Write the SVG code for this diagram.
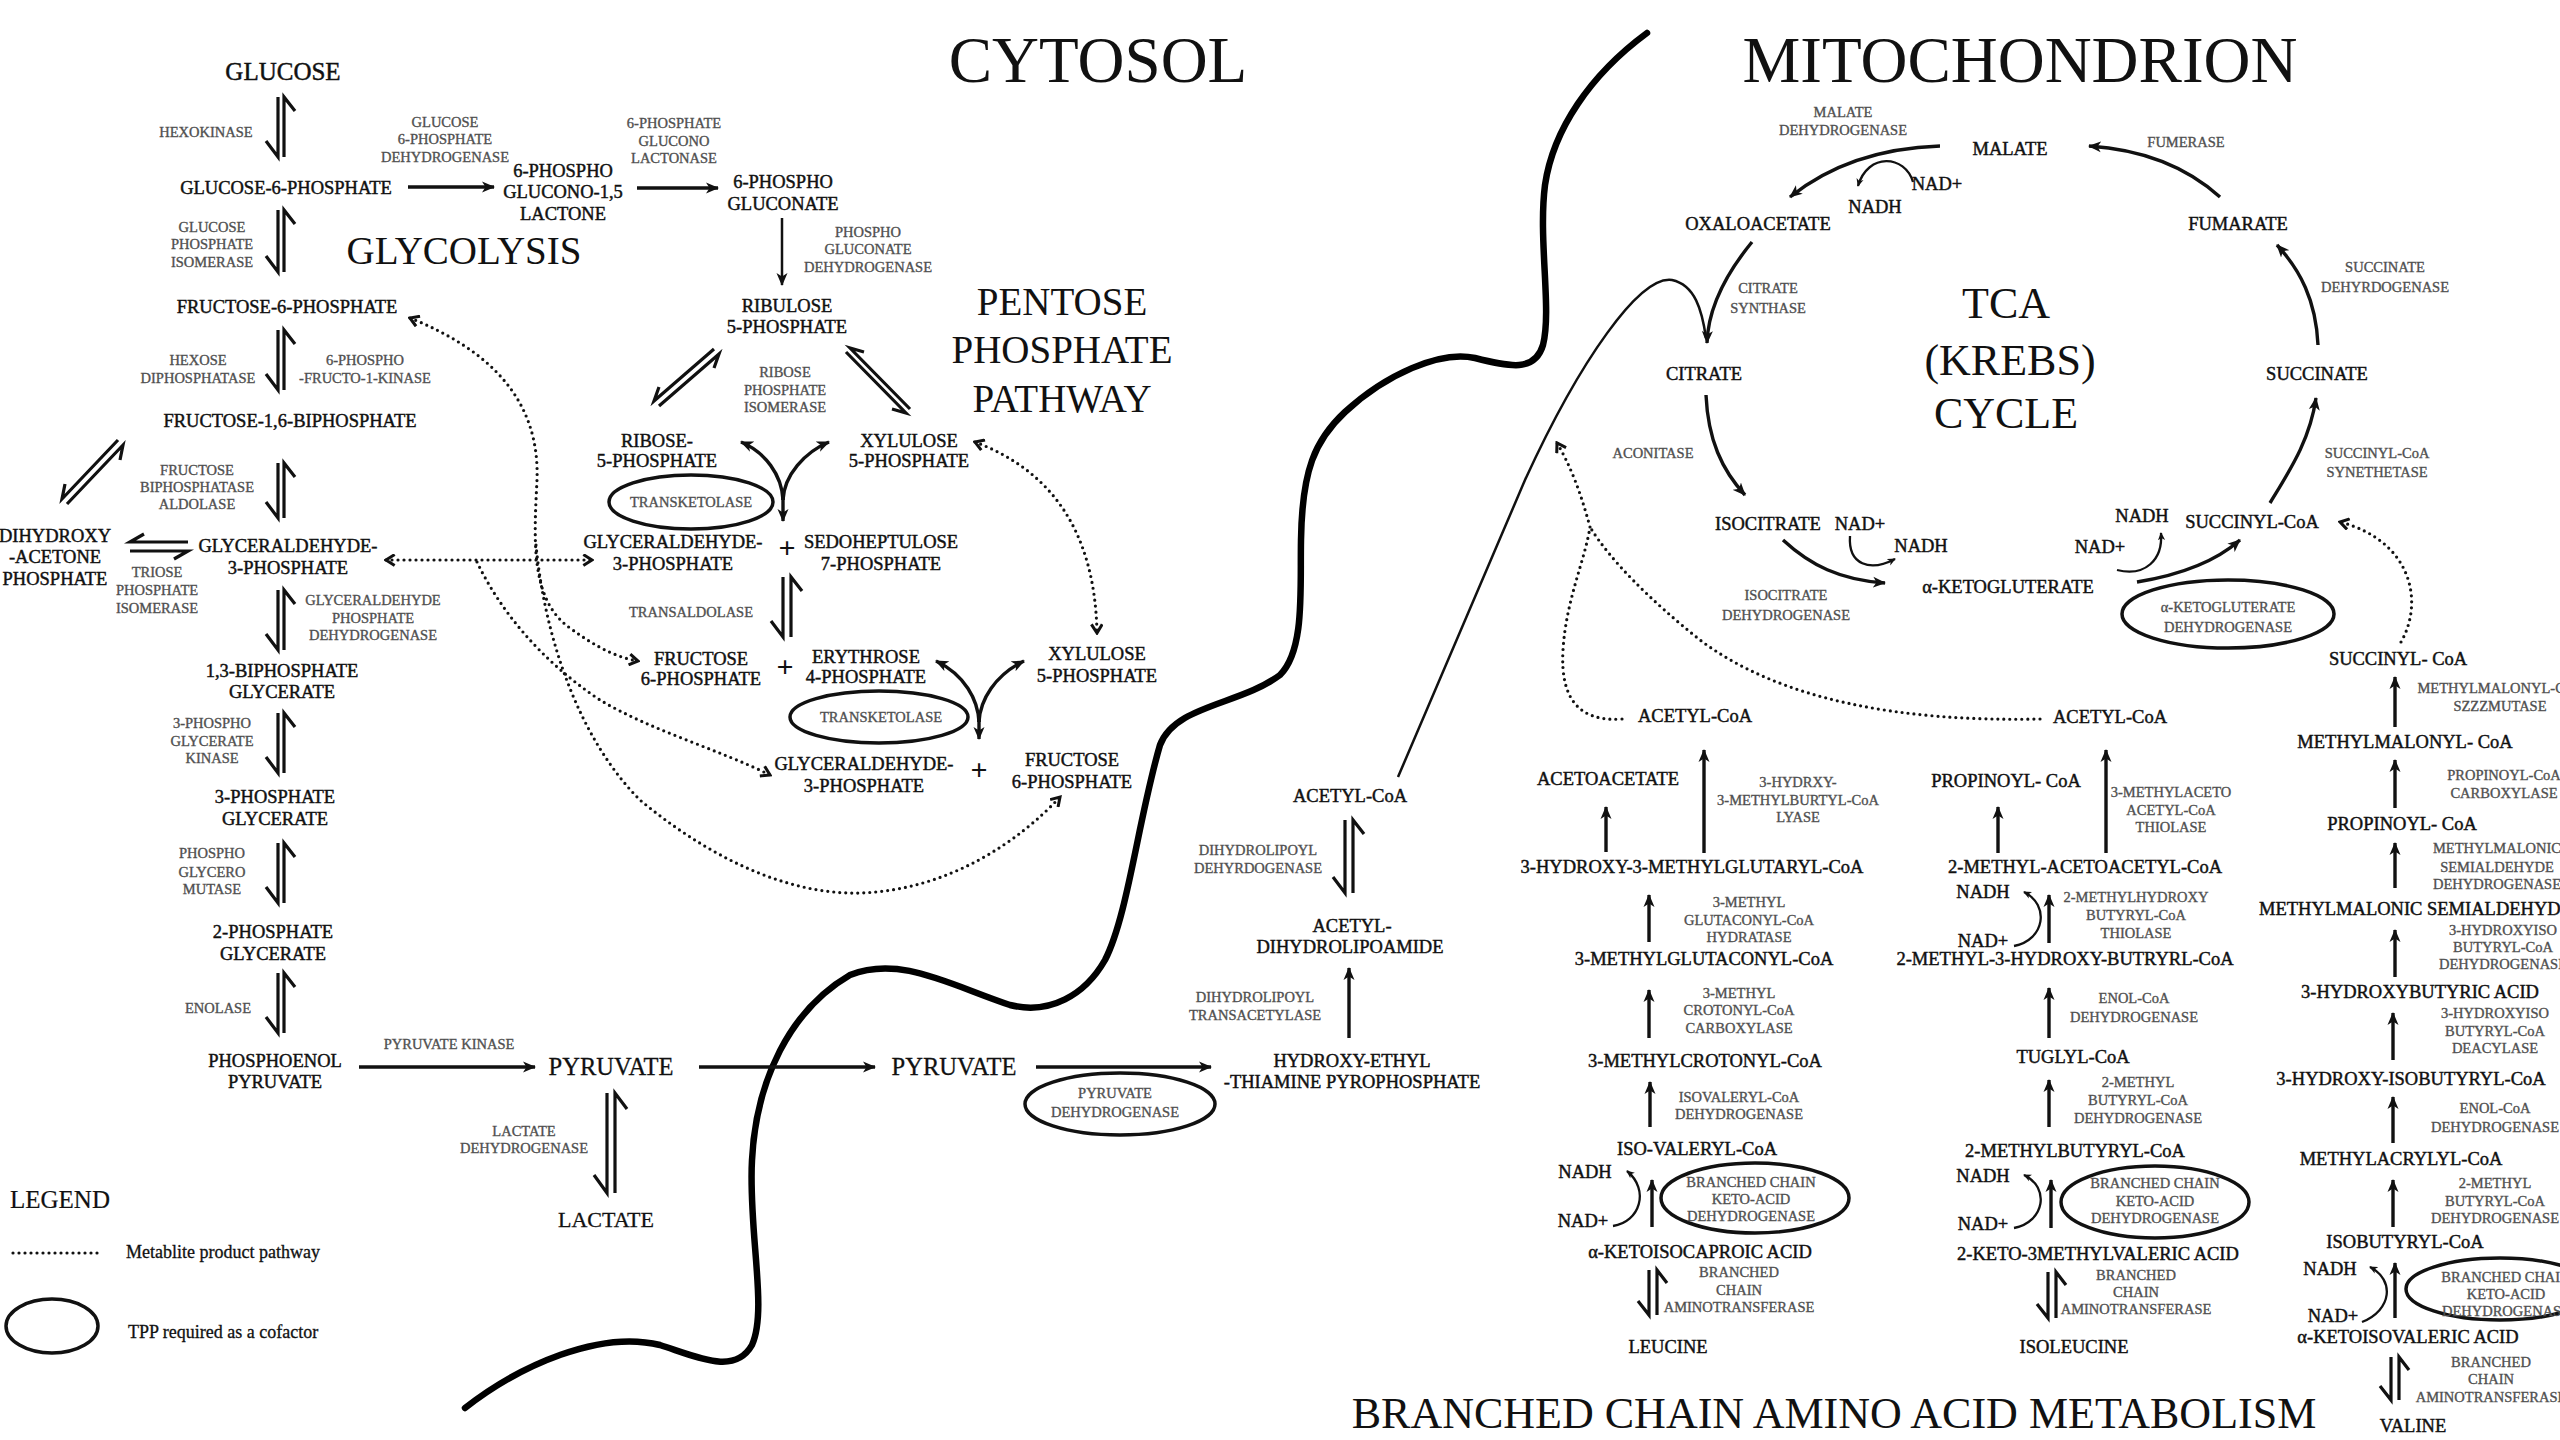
<svg xmlns="http://www.w3.org/2000/svg" width="2560" height="1440" viewBox="0 0 2560 1440">
<style>
text{font-family:"Liberation Serif","Times New Roman",serif}
.m{font-size:18.5px;fill:#111;stroke:#111;stroke-width:0.45px;text-anchor:middle}
.e{font-size:14.5px;fill:#505050;stroke:#505050;stroke-width:0.35px;text-anchor:middle}
.big{font-size:65px;fill:#111;text-anchor:middle}
.sec{font-size:39px;fill:#111;text-anchor:middle}
.lg{font-size:24.5px;fill:#111;stroke:#111;stroke-width:0.3px;text-anchor:middle}
.pl{font-size:30px;font-weight:bold;fill:#111;text-anchor:middle}
.leg{font-size:18px;fill:#111;stroke:#111;stroke-width:0.3px}
.ln{stroke:#111;stroke-width:3.4;fill:none;marker-end:url(#ah)}
.tn{stroke:#111;stroke-width:2.5;fill:none}
.arc{stroke:#111;stroke-width:2.3;fill:none;marker-end:url(#as)}
.eq{stroke:#111;stroke-width:3.2;fill:none;stroke-linejoin:miter;stroke-linecap:butt}
.dot{stroke:#111;stroke-width:3.2;fill:none;stroke-dasharray:0 6;stroke-linecap:round}
.ell{fill:none;stroke:#111;stroke-width:3.5}
.mem{fill:none;stroke:#000;stroke-width:6.5;stroke-linecap:round}
</style>
<defs>
<marker id="ah" viewBox="0 0 14 12" refX="12" refY="6" markerWidth="14" markerHeight="12" markerUnits="userSpaceOnUse" orient="auto-start-reverse"><path d="M0,0.5 L13,6 L0,11.5 L3.5,6 z" fill="#111"/></marker>
<marker id="as" viewBox="0 0 10 10" refX="8" refY="5" markerWidth="9" markerHeight="9" markerUnits="userSpaceOnUse" orient="auto-start-reverse"><path d="M0,1 L9,5 L0,9 L2.5,5 z" fill="#111"/></marker>
<marker id="dh" viewBox="0 0 12 12" refX="10" refY="6" markerWidth="13" markerHeight="13" markerUnits="userSpaceOnUse" orient="auto-start-reverse"><path d="M2,1 L10,6 L2,11" fill="none" stroke="#111" stroke-width="2.8"/></marker>
</defs>
<rect width="2560" height="1440" fill="#fff"/>

<g id="titles">
<text class="big" x="1098" y="82">CYTOSOL</text>
<text class="big" x="2020" y="82">MITOCHONDRION</text>
<text class="sec" x="464" y="264">GLYCOLYSIS</text>
<text class="sec"><tspan x="1062" y="315">PENTOSE</tspan><tspan x="1062" y="363">PHOSPHATE</tspan><tspan x="1062" y="412">PATHWAY</tspan></text>
<text class="sec" style="font-size:44px"><tspan x="2006" y="318">TCA</tspan><tspan x="2010" y="375">(KREBS)</tspan><tspan x="2006" y="428">CYCLE</tspan></text>
<text class="sec" style="font-size:44px" x="1834" y="1428">BRANCHED CHAIN AMINO ACID METABOLISM</text>
</g>

<g id="membrane"><path class="mem" d="M465,1408 C520,1365 600,1330 660,1345 C700,1358 735,1375 752,1345 C768,1310 748,1230 752,1160 C756,1080 790,1010 850,975 C900,955 950,985 1010,1005 C1050,1015 1085,995 1105,960 C1128,915 1138,820 1160,745 C1175,705 1240,705 1280,675 C1305,650 1300,590 1301,540 C1302,470 1315,440 1345,412 C1385,375 1440,350 1475,358 C1510,367 1535,372 1543,345 C1552,310 1538,240 1545,185 C1553,130 1590,75 1647,33"/></g>

<g id="glycolysis-nodes">
<g id="n-glucose"><text class="m" style="font-size:25px" x="283" y="80">GLUCOSE</text></g>
<g id="e-hexokinase"><text class="e" x="206" y="137">HEXOKINASE</text></g>
<g id="e-g6pdh"><text class="e"><tspan x="445" y="127">GLUCOSE</tspan><tspan x="445" y="144">6-PHOSPHATE</tspan><tspan x="445" y="162">DEHYDROGENASE</tspan></text></g>
<g id="n-g6p"><text class="m" x="286" y="194">GLUCOSE-6-PHOSPHATE</text></g>
<g id="n-lactone"><text class="m"><tspan x="563" y="177">6-PHOSPHO</tspan><tspan x="563" y="198">GLUCONO-1,5</tspan><tspan x="563" y="220">LACTONE</tspan></text></g>
<g id="e-lactonase"><text class="e"><tspan x="674" y="128">6-PHOSPHATE</tspan><tspan x="674" y="146">GLUCONO</tspan><tspan x="674" y="163">LACTONASE</tspan></text></g>
<g id="n-6pg"><text class="m"><tspan x="783" y="188">6-PHOSPHO</tspan><tspan x="783" y="210">GLUCONATE</tspan></text></g>
<g id="e-6pgdh"><text class="e"><tspan x="868" y="237">PHOSPHO</tspan><tspan x="868" y="254">GLUCONATE</tspan><tspan x="868" y="272">DEHYDROGENASE</tspan></text></g>
<g id="e-gpi"><text class="e"><tspan x="212" y="232">GLUCOSE</tspan><tspan x="212" y="249">PHOSPHATE</tspan><tspan x="212" y="267">ISOMERASE</tspan></text></g>
<g id="n-f6p"><text class="m" x="287" y="313">FRUCTOSE-6-PHOSPHATE</text></g>
<g id="e-hexdip"><text class="e"><tspan x="198" y="365">HEXOSE</tspan><tspan x="198" y="383">DIPHOSPHATASE</tspan></text></g>
<g id="e-pfk"><text class="e"><tspan x="365" y="365">6-PHOSPHO</tspan><tspan x="365" y="383">-FRUCTO-1-KINASE</tspan></text></g>
<g id="n-f16bp"><text class="m" x="290" y="427">FRUCTOSE-1,6-BIPHOSPHATE</text></g>
<g id="e-aldolase"><text class="e"><tspan x="197" y="475">FRUCTOSE</tspan><tspan x="197" y="492">BIPHOSPHATASE</tspan><tspan x="197" y="509">ALDOLASE</tspan></text></g>
<g id="n-dhap"><text class="m"><tspan x="55" y="542">DIHYDROXY</tspan><tspan x="55" y="563">-ACETONE</tspan><tspan x="55" y="585">PHOSPHATE</tspan></text></g>
<g id="e-tpi"><text class="e"><tspan x="157" y="577">TRIOSE</tspan><tspan x="157" y="595">PHOSPHATE</tspan><tspan x="157" y="613">ISOMERASE</tspan></text></g>
<g id="n-g3p"><text class="m"><tspan x="288" y="552">GLYCERALDEHYDE-</tspan><tspan x="288" y="574">3-PHOSPHATE</tspan></text></g>
<g id="e-gapdh"><text class="e"><tspan x="373" y="605">GLYCERALDEHYDE</tspan><tspan x="373" y="623">PHOSPHATE</tspan><tspan x="373" y="640">DEHYDROGENASE</tspan></text></g>
<g id="n-13bpg"><text class="m"><tspan x="282" y="677">1,3-BIPHOSPHATE</tspan><tspan x="282" y="698">GLYCERATE</tspan></text></g>
<g id="e-pgk"><text class="e"><tspan x="212" y="728">3-PHOSPHO</tspan><tspan x="212" y="746">GLYCERATE</tspan><tspan x="212" y="763">KINASE</tspan></text></g>
<g id="n-3pg"><text class="m"><tspan x="275" y="803">3-PHOSPHATE</tspan><tspan x="275" y="825">GLYCERATE</tspan></text></g>
<g id="e-pgm"><text class="e"><tspan x="212" y="858">PHOSPHO</tspan><tspan x="212" y="877">GLYCERO</tspan><tspan x="212" y="894">MUTASE</tspan></text></g>
<g id="n-2pg"><text class="m"><tspan x="273" y="938">2-PHOSPHATE</tspan><tspan x="273" y="960">GLYCERATE</tspan></text></g>
<g id="e-enolase"><text class="e" x="218" y="1013">ENOLASE</text></g>
<g id="n-pep"><text class="m"><tspan x="275" y="1067">PHOSPHOENOL</tspan><tspan x="275" y="1088">PYRUVATE</tspan></text></g>
<g id="e-pk"><text class="e" x="449" y="1049">PYRUVATE KINASE</text></g>
<g id="n-pyr-c"><text class="lg" x="611" y="1075">PYRUVATE</text></g>
<g id="e-ldh"><text class="e"><tspan x="524" y="1136">LACTATE</tspan><tspan x="524" y="1153">DEHYDROGENASE</tspan></text></g>
<g id="n-lactate"><text class="lg" style="font-size:22px" x="606" y="1227">LACTATE</text></g>
</g>

<g id="ppp-nodes">
<g id="n-ribulose"><text class="m"><tspan x="787" y="312">RIBULOSE</tspan><tspan x="787" y="333">5-PHOSPHATE</tspan></text></g>
<g id="e-rpi"><text class="e"><tspan x="785" y="377">RIBOSE</tspan><tspan x="785" y="395">PHOSPHATE</tspan><tspan x="785" y="412">ISOMERASE</tspan></text></g>
<g id="n-r5p"><text class="m"><tspan x="657" y="447">RIBOSE-</tspan><tspan x="657" y="467">5-PHOSPHATE</tspan></text></g>
<g id="n-xu5p-1"><text class="m"><tspan x="909" y="447">XYLULOSE</tspan><tspan x="909" y="467">5-PHOSPHATE</tspan></text></g>
<g id="e-tk1"><ellipse class="ell" cx="691" cy="502" rx="82" ry="27"/><text class="e" x="691" y="507">TRANSKETOLASE</text></g>
<g id="n-g3p-2"><text class="m"><tspan x="673" y="548">GLYCERALDEHYDE-</tspan><tspan x="673" y="570">3-PHOSPHATE</tspan></text></g>
<text class="pl" x="787" y="558">+</text>
<g id="n-s7p"><text class="m"><tspan x="881" y="548">SEDOHEPTULOSE</tspan><tspan x="881" y="570">7-PHOSPHATE</tspan></text></g>
<g id="e-transaldolase"><text class="e" x="691" y="617">TRANSALDOLASE</text></g>
<g id="n-f6p-2"><text class="m"><tspan x="701" y="665">FRUCTOSE</tspan><tspan x="701" y="685">6-PHOSPHATE</tspan></text></g>
<text class="pl" x="785" y="677">+</text>
<g id="n-e4p"><text class="m"><tspan x="866" y="663">ERYTHROSE</tspan><tspan x="866" y="683">4-PHOSPHATE</tspan></text></g>
<g id="n-xu5p-2"><text class="m"><tspan x="1097" y="660">XYLULOSE</tspan><tspan x="1097" y="682">5-PHOSPHATE</tspan></text></g>
<g id="e-tk2"><ellipse class="ell" cx="879" cy="717" rx="89" ry="26"/><text class="e" x="881" y="722">TRANSKETOLASE</text></g>
<g id="n-g3p-3"><text class="m"><tspan x="864" y="770">GLYCERALDEHYDE-</tspan><tspan x="864" y="792">3-PHOSPHATE</tspan></text></g>
<text class="pl" x="979" y="780">+</text>
<g id="n-f6p-3"><text class="m"><tspan x="1072" y="766">FRUCTOSE</tspan><tspan x="1072" y="788">6-PHOSPHATE</tspan></text></g>
</g>

<g id="pdh-nodes">
<g id="n-pyr-m"><text class="lg" x="954" y="1075">PYRUVATE</text></g>
<g id="e-pdh"><ellipse class="ell" cx="1120" cy="1104" rx="95" ry="31"/><text class="e"><tspan x="1115" y="1098">PYRUVATE</tspan><tspan x="1115" y="1117">DEHYDROGENASE</tspan></text></g>
<g id="n-hetpp"><text class="m"><tspan x="1352" y="1067">HYDROXY-ETHYL</tspan><tspan x="1352" y="1088">-THIAMINE PYROPHOSPHATE</tspan></text></g>
<g id="e-dlta"><text class="e"><tspan x="1255" y="1002">DIHYDROLIPOYL</tspan><tspan x="1255" y="1020">TRANSACETYLASE</tspan></text></g>
<g id="n-acdhl"><text class="m"><tspan x="1352" y="932">ACETYL-</tspan><tspan x="1350" y="953">DIHYDROLIPOAMIDE</tspan></text></g>
<g id="e-dldh"><text class="e"><tspan x="1258" y="855">DIHYDROLIPOYL</tspan><tspan x="1258" y="873">DEHYRDOGENASE</tspan></text></g>
<g id="n-acoa-m"><text class="m" x="1350" y="802">ACETYL-CoA</text></g>
</g>

<g id="tca-nodes">
<g id="n-malate"><text class="m" x="2010" y="155">MALATE</text></g>
<g id="e-mdh"><text class="e"><tspan x="1843" y="117">MALATE</tspan><tspan x="1843" y="135">DEHYDROGENASE</tspan></text></g>
<g id="c-nadh-1"><text class="m" x="1875" y="213">NADH</text></g>
<g id="c-nad-1"><text class="m" x="1937" y="190">NAD+</text></g>
<g id="n-oaa"><text class="m" x="1758" y="230">OXALOACETATE</text></g>
<g id="e-cs"><text class="e"><tspan x="1768" y="293">CITRATE</tspan><tspan x="1768" y="313">SYNTHASE</tspan></text></g>
<g id="n-citrate"><text class="m" x="1704" y="380">CITRATE</text></g>
<g id="e-aconitase"><text class="e" x="1653" y="458">ACONITASE</text></g>
<g id="n-isocitrate"><text class="m" x="1768" y="530">ISOCITRATE</text></g>
<g id="c-nad-2"><text class="m" x="1860" y="530">NAD+</text></g>
<g id="c-nadh-2"><text class="m" x="1921" y="552">NADH</text></g>
<g id="e-idh"><text class="e"><tspan x="1786" y="600">ISOCITRATE</tspan><tspan x="1786" y="620">DEHYDROGENASE</tspan></text></g>
<g id="n-akg"><text class="m" x="2008" y="593">α-KETOGLUTERATE</text></g>
<g id="c-nad-3"><text class="m" x="2100" y="553">NAD+</text></g>
<g id="c-nadh-3"><text class="m" x="2142" y="522">NADH</text></g>
<g id="e-akgdh"><ellipse class="ell" cx="2228" cy="614" rx="106" ry="34"/><text class="e"><tspan x="2228" y="612">α-KETOGLUTERATE</tspan><tspan x="2228" y="632">DEHYDROGENASE</tspan></text></g>
<g id="n-succoa"><text class="m" x="2252" y="528">SUCCINYL-CoA</text></g>
<g id="e-scs"><text class="e"><tspan x="2377" y="458">SUCCINYL-CoA</tspan><tspan x="2377" y="477">SYNETHETASE</tspan></text></g>
<g id="n-succinate"><text class="m" x="2317" y="380">SUCCINATE</text></g>
<g id="e-sdh"><text class="e"><tspan x="2385" y="272">SUCCINATE</tspan><tspan x="2385" y="292">DEHYRDOGENASE</tspan></text></g>
<g id="n-fumarate"><text class="m" x="2238" y="230">FUMARATE</text></g>
<g id="e-fumerase"><text class="e" x="2186" y="147">FUMERASE</text></g>
</g>

<g id="leucine-nodes">
<g id="n-acoa-1"><text class="m" x="1695" y="722">ACETYL-CoA</text></g>
<g id="n-acetoacetate"><text class="m" x="1608" y="785">ACETOACETATE</text></g>
<g id="e-hmgl"><text class="e"><tspan x="1798" y="787">3-HYDRXY-</tspan><tspan x="1798" y="805">3-METHYLBURTYL-CoA</tspan><tspan x="1798" y="822">LYASE</tspan></text></g>
<g id="n-hmgcoa"><text class="m" x="1692" y="873">3-HYDROXY-3-METHYLGLUTARYL-CoA</text></g>
<g id="e-mgh"><text class="e"><tspan x="1749" y="907">3-METHYL</tspan><tspan x="1749" y="925">GLUTACONYL-CoA</tspan><tspan x="1749" y="942">HYDRATASE</tspan></text></g>
<g id="n-mgcoa"><text class="m" x="1704" y="965">3-METHYLGLUTACONYL-CoA</text></g>
<g id="e-mcc"><text class="e"><tspan x="1739" y="998">3-METHYL</tspan><tspan x="1739" y="1015">CROTONYL-CoA</tspan><tspan x="1739" y="1033">CARBOXYLASE</tspan></text></g>
<g id="n-mccoa"><text class="m" x="1705" y="1067">3-METHYLCROTONYL-CoA</text></g>
<g id="e-ivd"><text class="e"><tspan x="1739" y="1102">ISOVALERYL-CoA</tspan><tspan x="1739" y="1119">DEHYDROGENASE</tspan></text></g>
<g id="n-ivcoa"><text class="m" x="1697" y="1155">ISO-VALERYL-CoA</text></g>
<g id="c-nadh-4"><text class="m" x="1585" y="1178">NADH</text></g>
<g id="c-nad-4"><text class="m" x="1583" y="1227">NAD+</text></g>
<g id="e-bckd-1"><ellipse class="ell" cx="1755" cy="1198" rx="94" ry="35"/><text class="e"><tspan x="1751" y="1187">BRANCHED CHAIN</tspan><tspan x="1751" y="1204">KETO-ACID</tspan><tspan x="1751" y="1221">DEHYDROGENASE</tspan></text></g>
<g id="n-kic"><text class="m" x="1700" y="1258">α-KETOISOCAPROIC ACID</text></g>
<g id="e-bcat-1"><text class="e"><tspan x="1739" y="1277">BRANCHED</tspan><tspan x="1739" y="1295">CHAIN</tspan><tspan x="1739" y="1312">AMINOTRANSFERASE</tspan></text></g>
<g id="n-leucine"><text class="m" x="1668" y="1353">LEUCINE</text></g>
</g>

<g id="isoleucine-nodes">
<g id="n-acoa-2"><text class="m" x="2110" y="723">ACETYL-CoA</text></g>
<g id="n-propcoa-1"><text class="m" x="2006" y="787">PROPINOYL- CoA</text></g>
<g id="e-mat"><text class="e"><tspan x="2171" y="797">3-METHYLACETO</tspan><tspan x="2171" y="815">ACETYL-CoA</tspan><tspan x="2171" y="832">THIOLASE</tspan></text></g>
<g id="n-macoa"><text class="m" x="2085" y="873">2-METHYL-ACETOACETYL-CoA</text></g>
<g id="c-nadh-5"><text class="m" x="1983" y="898">NADH</text></g>
<g id="c-nad-5"><text class="m" x="1983" y="947">NAD+</text></g>
<g id="e-mhbt"><text class="e"><tspan x="2136" y="902">2-METHYLHYDROXY</tspan><tspan x="2136" y="920">BUTYRYL-CoA</tspan><tspan x="2136" y="938">THIOLASE</tspan></text></g>
<g id="n-mhbcoa"><text class="m" x="2065" y="965">2-METHYL-3-HYDROXY-BUTRYRL-CoA</text></g>
<g id="e-ecd-1"><text class="e"><tspan x="2134" y="1003">ENOL-CoA</tspan><tspan x="2134" y="1022">DEHYDROGENASE</tspan></text></g>
<g id="n-tuglyl"><text class="m" x="2073" y="1063">TUGLYL-CoA</text></g>
<g id="e-mbcd-1"><text class="e"><tspan x="2138" y="1087">2-METHYL</tspan><tspan x="2138" y="1105">BUTYRYL-CoA</tspan><tspan x="2138" y="1123">DEHYDROGENASE</tspan></text></g>
<g id="n-mbcoa"><text class="m" x="2075" y="1157">2-METHYLBUTYRYL-CoA</text></g>
<g id="c-nadh-6"><text class="m" x="1983" y="1182">NADH</text></g>
<g id="c-nad-6"><text class="m" x="1983" y="1230">NAD+</text></g>
<g id="e-bckd-2"><ellipse class="ell" cx="2155" cy="1202" rx="94" ry="36"/><text class="e"><tspan x="2155" y="1188">BRANCHED CHAIN</tspan><tspan x="2155" y="1206">KETO-ACID</tspan><tspan x="2155" y="1223">DEHYDROGENASE</tspan></text></g>
<g id="n-kmv"><text class="m" x="2098" y="1260">2-KETO-3METHYLVALERIC ACID</text></g>
<g id="e-bcat-2"><text class="e"><tspan x="2136" y="1280">BRANCHED</tspan><tspan x="2136" y="1297">CHAIN</tspan><tspan x="2136" y="1314">AMINOTRANSFERASE</tspan></text></g>
<g id="n-isoleucine"><text class="m" x="2074" y="1353">ISOLEUCINE</text></g>
</g>

<g id="valine-nodes">
<g id="n-succoa-2"><text class="m" x="2398" y="665">SUCCINYL- CoA</text></g>
<g id="e-mcm"><text class="e"><tspan x="2500" y="693">METHYLMALONYL-CoA</tspan><tspan x="2500" y="711">SZZZMUTASE</tspan></text></g>
<g id="n-mmcoa"><text class="m" x="2405" y="748">METHYLMALONYL- CoA</text></g>
<g id="e-pcc"><text class="e"><tspan x="2504" y="780">PROPINOYL-CoA</tspan><tspan x="2504" y="798">CARBOXYLASE</tspan></text></g>
<g id="n-propcoa-2"><text class="m" x="2402" y="830">PROPINOYL- CoA</text></g>
<g id="e-mmsdh"><text class="e"><tspan x="2497" y="853">METHYLMALONIC</tspan><tspan x="2497" y="872">SEMIALDEHYDE</tspan><tspan x="2497" y="889">DEHYDROGENASE</tspan></text></g>
<g id="n-mmsa"><text class="m" style="text-anchor:start" x="2259" y="915">METHYLMALONIC SEMIALDEHYDE</text></g>
<g id="e-hibdh"><text class="e"><tspan x="2503" y="935">3-HYDROXYISO</tspan><tspan x="2503" y="952">BUTYRYL-CoA</tspan><tspan x="2503" y="969">DEHYDROGENASE</tspan></text></g>
<g id="n-hba"><text class="m" x="2420" y="998">3-HYDROXYBUTYRIC ACID</text></g>
<g id="e-hibch"><text class="e"><tspan x="2495" y="1018">3-HYDROXYISO</tspan><tspan x="2495" y="1036">BUTYRYL-CoA</tspan><tspan x="2495" y="1053">DEACYLASE</tspan></text></g>
<g id="n-hibcoa"><text class="m" x="2411" y="1085">3-HYDROXY-ISOBUTYRYL-CoA</text></g>
<g id="e-ecd-2"><text class="e"><tspan x="2495" y="1113">ENOL-CoA</tspan><tspan x="2495" y="1132">DEHYDROGENASE</tspan></text></g>
<g id="n-macrcoa"><text class="m" x="2401" y="1165">METHYLACRYLYL-CoA</text></g>
<g id="e-mbcd-2"><text class="e"><tspan x="2495" y="1188">2-METHYL</tspan><tspan x="2495" y="1206">BUTYRYL-CoA</tspan><tspan x="2495" y="1223">DEHYDROGENASE</tspan></text></g>
<g id="n-ibcoa"><text class="m" x="2405" y="1248">ISOBUTYRYL-CoA</text></g>
<g id="c-nadh-7"><text class="m" x="2330" y="1275">NADH</text></g>
<g id="c-nad-7"><text class="m" x="2333" y="1322">NAD+</text></g>
<g id="e-bckd-3"><ellipse class="ell" cx="2500" cy="1289" rx="94" ry="31"/><text class="e"><tspan x="2506" y="1282">BRANCHED CHAIN</tspan><tspan x="2506" y="1299">KETO-ACID</tspan><tspan x="2506" y="1316">DEHYDROGENASE</tspan></text></g>
<g id="n-kiv"><text class="m" x="2408" y="1343">α-KETOISOVALERIC ACID</text></g>
<g id="e-bcat-3"><text class="e"><tspan x="2491" y="1367">BRANCHED</tspan><tspan x="2491" y="1384">CHAIN</tspan><tspan x="2491" y="1402">AMINOTRANSFERASE</tspan></text></g>
<g id="n-valine"><text class="m" x="2413" y="1432">VALINE</text></g>
</g>

<g id="legend">
<text class="leg" style="font-size:25px;stroke-width:0.2px" x="10" y="1208">LEGEND</text>
<path class="dot" d="M13,1253 H98"/>
<text class="leg" x="126" y="1258">Metablite product pathway</text>
<ellipse class="ell" cx="52" cy="1326" rx="46" ry="27"/>
<text class="leg" x="128" y="1338">TPP required as a cofactor</text>
</g>

<g id="connectors">
<path class="eq" d="M278,97 V157 l-12,-16 M284,157 V97 l11,14"/>
<path class="eq" d="M278,210 V272 l-12,-16 M284,272 V210 l11,14"/>
<path class="eq" d="M278,330 V390 l-12,-16 M284,390 V330 l11,14"/>
<path class="eq" d="M278,463 V518 l-12,-16 M284,518 V463 l11,14"/>
<path class="eq" d="M278,590 V650 l-12,-16 M284,650 V590 l11,14"/>
<path class="eq" d="M278,713 V773 l-12,-16 M284,773 V713 l11,14"/>
<path class="eq" d="M278,843 V903 l-12,-16 M284,903 V843 l11,14"/>
<path class="eq" d="M278,973 V1033 l-12,-16 M284,1033 V973 l11,14"/>
<path class="eq" d="M118,440 L62,499 L65,484 M67,504 L123,445 L120,460"/>
<path class="eq" d="M188,542 H130 l14,-8 M130,551 H188 l-14,8"/>
<path class="eq" d="M607,1093 V1193 l-13,-18 M615,1193 V1093 l12,16"/>
<path class="ln" d="M408,187 H494"/>
<path class="ln" d="M637,188 H718"/>
<path class="tn" style="marker-end:url(#ah)" d="M782,218 V285"/>
<path class="ln" d="M359,1067 H535"/>
<path class="eq" d="M714,349 L654,401 L659,387 M659,406 L719,354 L714,368"/>
<path class="eq" d="M910,409 L850,348 L864,352 M846,352 L906,413 L892,409"/>
<path class="ln" d="M783,500 C782,475 765,452 741,442"/>
<path class="ln" d="M783,500 C784,475 805,452 829,442"/>
<path class="ln" d="M783,492 V521"/>
<path class="eq" d="M783,577 V637 l-12,-16 M791,637 V577 l11,14"/>
<path class="ln" d="M979,722 C978,700 965,675 936,661"/>
<path class="ln" d="M979,722 C980,700 995,675 1024,661"/>
<path class="ln" d="M979,714 V739"/>
<path class="dot" style="marker-start:url(#dh);marker-end:url(#dh)" d="M410,318 C490,350 540,400 537,480 C534,540 530,600 570,628 C600,650 620,658 638,661"/>
<path class="dot" style="marker-start:url(#dh);marker-end:url(#dh)" d="M386,560 H592"/>
<path class="dot" style="marker-end:url(#dh)" d="M477,562 C500,610 540,660 600,700 C650,730 720,750 770,775"/>
<path class="dot" style="marker-end:url(#dh)" d="M536,545 C545,640 580,740 640,800 C700,850 780,895 860,893 C950,890 1020,840 1060,797"/>
<path class="dot" style="marker-start:url(#dh);marker-end:url(#dh)" d="M975,442 C1050,470 1095,530 1097,633"/>
<path class="ln" d="M699,1067 H875"/>
<path class="ln" d="M1036,1067 H1211"/>
<path class="ln" d="M1349,1038 V968"/>
<path class="eq" d="M1345,820 V893 l-12,-16 M1353,893 V820 l11,14"/>
<path class="tn" d="M1398,777 L1525,480 C1580,360 1640,275 1672,280 C1695,285 1702,310 1706,338"/>
<path class="ln" d="M1940,146 C1880,148 1830,165 1790,197"/>
<path class="arc" d="M1913,182 C1905,155 1868,152 1858,186"/>
<path class="ln" d="M1752,242 C1725,275 1708,310 1707,343"/>
<path class="ln" d="M1706,395 C1708,440 1722,470 1745,495"/>
<path class="ln" d="M1783,540 C1810,565 1840,580 1885,583"/>
<path class="arc" d="M1850,536 C1848,565 1870,572 1895,559"/>
<path class="ln" d="M2137,582 C2180,575 2215,562 2240,540"/>
<path class="arc" d="M2117,570 C2145,577 2163,560 2161,533"/>
<path class="ln" d="M2270,503 C2290,470 2310,440 2316,398"/>
<path class="ln" d="M2318,345 C2316,300 2300,270 2277,245"/>
<path class="ln" d="M2220,197 C2190,170 2150,150 2089,146"/>
<path class="dot" d="M1622,719 C1580,722 1560,700 1563,650 C1566,600 1585,560 1590,527"/>
<path class="dot" d="M2040,719 C1900,722 1780,700 1700,640 C1650,600 1610,560 1590,527"/>
<path class="dot" style="marker-end:url(#dh)" d="M1590,527 C1580,490 1570,465 1557,443"/>
<path class="dot" style="marker-end:url(#dh)" d="M2401,642 C2425,600 2410,540 2340,522"/>
<path class="ln" d="M1606,852 V807"/>
<path class="ln" d="M1704,853 V750"/>
<path class="ln" d="M1649,942 V895"/>
<path class="ln" d="M1649,1038 V990"/>
<path class="ln" d="M1650,1127 V1082"/>
<path class="ln" d="M1652,1227 V1180"/>
<path class="arc" d="M1613,1226 C1640,1222 1650,1190 1627,1171"/>
<path class="eq" d="M1649,1270 V1315 l-11,-14 M1657,1315 V1270 l10,13"/>
<path class="ln" d="M1998,853 V807"/>
<path class="ln" d="M2106,853 V750"/>
<path class="ln" d="M2049,943 V895"/>
<path class="arc" d="M2014,946 C2045,940 2050,905 2024,892"/>
<path class="ln" d="M2049,1038 V988"/>
<path class="ln" d="M2049,1127 V1080"/>
<path class="ln" d="M2051,1228 V1180"/>
<path class="arc" d="M2014,1228 C2045,1222 2050,1187 2024,1175"/>
<path class="eq" d="M2048,1272 V1318 l-11,-14 M2056,1318 V1272 l10,13"/>
<path class="ln" d="M2395,727 V677"/>
<path class="ln" d="M2395,808 V760"/>
<path class="ln" d="M2395,888 V843"/>
<path class="ln" d="M2395,977 V930"/>
<path class="ln" d="M2393,1060 V1013"/>
<path class="ln" d="M2393,1143 V1097"/>
<path class="ln" d="M2393,1227 V1180"/>
<path class="ln" d="M2395,1318 V1263"/>
<path class="arc" d="M2362,1322 C2392,1310 2395,1280 2370,1267"/>
<path class="eq" d="M2391,1357 V1400 l-11,-14 M2399,1400 V1357 l10,13"/>
</g>
</svg>
